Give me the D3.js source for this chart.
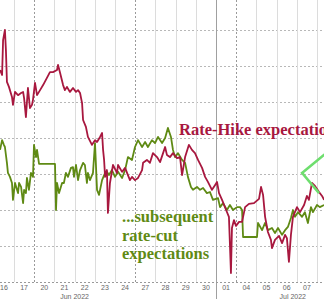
<!DOCTYPE html>
<html>
<head>
<meta charset="utf-8">
<script src="https://cdn.jsdelivr.net/npm/d3@7"></script>
<style>
  html, body { margin: 0; padding: 0; background: #fff; }
  svg { display: block; }
</style>
</head>
<body>
<svg id="chart" width="324" height="299"></svg>
<script>
// ---- DATA ----
// trading-day index (0 = Jun 16) and level (units of one gridline)
const dayLabels = ["16","17","20","21","22","23","24","27","28","29","30","01","04","05","06","07"];
const weekBreaks = [2, 7, 12];
const monthBreak = 11;
const monthLabels = [{ t: 4.0, label: "Jun 2022" }, { t: 14.8, label: "Jul 2022" }];
const yTicks = [1, 2, 3, 4, 5, 6, 7];

const hikeT = [0.31,0.41,0.46,0.55,0.60,0.65,0.75,0.90,0.95,1.05,1.20,1.35,1.45,1.50,1.59,1.69,1.79,1.89,1.94,2.04,2.14,2.29,2.44,2.63,2.78,2.93,3.13,3.18,3.28,3.43,3.52,3.62,3.77,3.92,4.07,4.17,4.27,4.37,4.42,4.56,4.66,4.86,5.01,5.11,5.26,5.36,5.41,5.46,5.51,5.60,5.65,5.75,5.90,6.10,6.15,6.35,6.50,6.64,6.74,6.84,6.99,7.14,7.34,7.39,7.58,7.73,7.88,8.08,8.23,8.38,8.48,8.57,8.72,8.87,9.07,9.22,9.32,9.47,9.66,9.81,9.96,10.11,10.31,10.46,10.60,10.80,10.95,11.05,11.15,11.30,11.50,11.64,11.74,11.79,11.89,11.99,12.14,12.29,12.44,12.63,12.88,13.13,13.23,13.33,13.43,13.57,13.72,13.77,13.92,14.12,14.27,14.42,14.51,14.61,14.71,14.81,15.01,15.16,15.36,15.50,15.60,15.75,15.90,16.10,16.25,16.35];
const hikeV = [5.89,5.75,6.72,7.00,6.44,5.56,5.42,5.14,4.92,5.28,5.19,5.25,5.28,5.11,4.58,5.39,4.83,4.92,5.06,5.53,5.19,5.33,5.47,5.67,5.83,5.83,5.89,6.03,5.81,5.47,5.33,5.42,5.28,5.39,5.28,5.33,5.25,4.97,4.50,4.31,4.03,3.81,3.94,3.89,4.03,4.14,3.67,3.39,2.92,3.11,1.92,2.75,3.25,3.03,3.25,3.06,3.17,2.97,2.83,2.92,2.83,2.89,3.11,3.31,3.39,3.31,3.58,3.47,3.33,3.58,3.75,3.53,3.47,3.58,3.44,3.47,2.97,3.47,3.81,3.67,3.58,3.39,3.17,2.92,2.78,2.56,2.69,2.78,2.47,2.28,2.00,1.81,0.25,1.50,1.72,1.56,1.67,1.67,2.08,2.17,2.19,2.31,2.64,2.42,1.81,1.39,1.17,0.94,1.17,1.28,1.08,1.31,1.22,0.56,1.31,1.81,2.08,1.94,2.14,2.39,2.28,2.75,2.67,2.50,2.39,2.28];

const cutT = [0.31,0.41,0.50,0.55,0.65,0.70,0.80,0.90,0.95,1.05,1.15,1.20,1.25,1.35,1.45,1.50,1.59,1.64,1.74,1.84,1.94,1.99,2.09,2.14,2.24,3.03,3.08,3.13,3.23,3.38,3.47,3.57,3.67,3.82,3.92,3.97,4.07,4.17,4.27,4.42,4.51,4.61,4.66,4.76,4.91,5.01,5.11,5.21,5.36,5.51,5.60,5.70,5.85,6.00,6.15,6.35,6.50,6.64,6.84,6.99,7.14,7.34,7.49,7.63,7.83,7.98,8.13,8.33,8.48,8.62,8.77,8.87,8.97,9.12,9.32,9.47,9.61,9.76,9.86,10.06,10.21,10.36,10.55,10.70,10.85,11.10,11.20,11.35,11.54,11.69,11.84,12.04,12.19,12.29,12.34,13.03,13.08,13.28,13.43,13.57,13.77,13.92,14.07,14.27,14.42,14.56,14.71,14.81,14.91,15.06,15.26,15.40,15.55,15.70,15.80,16.00,16.14,16.35];
const cutV = [3.67,3.94,3.81,3.75,3.31,3.03,2.92,2.75,2.28,2.75,2.56,2.47,2.75,2.64,2.19,2.56,2.47,2.89,2.56,3.03,2.92,3.81,3.47,3.67,3.28,3.28,2.00,2.75,2.47,2.75,2.75,3.03,2.92,3.17,3.19,2.92,3.25,2.83,3.11,3.31,3.25,2.75,3.03,2.83,3.03,3.86,2.56,2.42,2.83,3.03,3.06,2.97,3.11,2.92,3.06,2.89,3.11,3.47,3.39,3.75,3.94,3.75,3.89,3.75,3.94,3.86,4.03,3.86,4.00,4.28,4.03,3.67,3.47,3.58,3.39,3.31,2.92,2.64,2.56,2.64,2.56,2.61,2.47,2.50,2.28,2.33,2.08,2.19,2.00,2.14,2.00,2.08,2.08,2.00,1.25,1.25,1.64,1.44,1.64,1.44,1.50,1.36,1.50,1.31,1.44,1.53,1.78,2.00,1.81,1.94,1.81,1.94,1.64,2.08,1.94,2.14,2.08,2.14];

// annotation arrow (data units)
const arrowT = [16.64, 15.26, 16.10];
const arrowV = [3.67, 3.03, 2.47];

// ---- CHART ----
const W = 324, H = 299;
const svg = d3.select("#chart");
const x = d3.scaleLinear().domain([0, 17]).range([-6.2, 337.2]);
const y = d3.scaleLinear().domain([0, 7]).range([282, 30]);

// horizontal dotted gridlines
svg.append("g").selectAll("line").data(yTicks).join("line")
  .attr("x1", 0).attr("x2", W)
  .attr("y1", d => Math.round(y(d)) + 0.5).attr("y2", d => Math.round(y(d)) + 0.5)
  .attr("stroke", "#b8b8b8").attr("stroke-width", 1)
  .attr("stroke-dasharray", "2,2");

// vertical day gridlines
const bounds = d3.range(1, 17);
svg.append("g").selectAll("line").data(bounds).join("line")
  .attr("x1", d => Math.round(x(d)) + 0.5).attr("x2", d => Math.round(x(d)) + 0.5)
  .attr("y1", 0).attr("y2", y(0))
  .attr("stroke", d => d === monthBreak ? "#a0a0a0" : (weekBreaks.includes(d) ? "#9a9a9a" : "#dcdcdc"))
  .attr("stroke-width", 1)
  .attr("stroke-dasharray", d => weekBreaks.includes(d) ? "2,2" : null);

// month separator extends into label area
svg.append("line")
  .attr("x1", Math.round(x(monthBreak)) + 0.5).attr("x2", Math.round(x(monthBreak)) + 0.5)
  .attr("y1", y(0)).attr("y2", H)
  .attr("stroke", "#a0a0a0").attr("stroke-width", 1);

// x axis baseline (dotted)
svg.append("line")
  .attr("x1", 0).attr("x2", W).attr("y1", y(0) + 0.5).attr("y2", y(0) + 0.5)
  .attr("stroke", "#9a9a9a").attr("stroke-dasharray", "2,2");

// day tick labels
svg.append("g").selectAll("text").data(dayLabels).join("text")
  .attr("x", (d, i) => x(i + 0.5))
  .attr("y", 290)
  .attr("text-anchor", "middle")
  .attr("font-family", "Liberation Sans, Arial, sans-serif")
  .attr("font-size", 7)
  .attr("fill", "#666")
  .text(d => d);

svg.append("g").selectAll("text").data(monthLabels).join("text")
  .attr("x", d => x(d.t))
  .attr("y", 298.5)
  .attr("text-anchor", "middle")
  .attr("font-family", "Liberation Sans, Arial, sans-serif")
  .attr("font-size", 7)
  .attr("fill", "#666")
  .text(d => d.label);

// series
const line = d3.line().x(d => x(d[0])).y(d => y(d[1])).curve(d3.curveLinear);
const cutData = cutT.map((t, i) => [t, cutV[i]]);
const hikeData = hikeT.map((t, i) => [t, hikeV[i]]);

svg.append("path").datum(cutData)
  .attr("d", line).attr("fill", "none")
  .attr("stroke", "#5f8a14").attr("stroke-width", 1.8).attr("stroke-linejoin", "round");

svg.append("path").datum(hikeData)
  .attr("d", line).attr("fill", "none")
  .attr("stroke", "#a8183f").attr("stroke-width", 1.8).attr("stroke-linejoin", "round");

// annotation arrow
svg.append("path").datum(arrowT.map((t, i) => [t, arrowV[i]]))
  .attr("d", line).attr("fill", "none")
  .attr("stroke", "#6ede6e").attr("stroke-width", 2.5).attr("stroke-linejoin", "miter");

// annotation text
svg.append("text")
  .attr("x", 179).attr("y", 135)
  .attr("font-family", "Liberation Serif, Times New Roman, serif")
  .attr("font-weight", "bold").attr("font-size", 16.5)
  .attr("fill", "#a8183f")
  .text("Rate-Hike expectations");

const greenLines = ["...subsequent", "rate-cut", "expectations"];
svg.append("g").selectAll("text").data(greenLines).join("text")
  .attr("x", 122).attr("y", (d, i) => 222 + i * 18.5)
  .attr("font-family", "Liberation Serif, Times New Roman, serif")
  .attr("font-weight", "bold").attr("font-size", 16.5)
  .attr("fill", "#5f8a14")
  .text(d => d);
</script>
</body>
</html>
